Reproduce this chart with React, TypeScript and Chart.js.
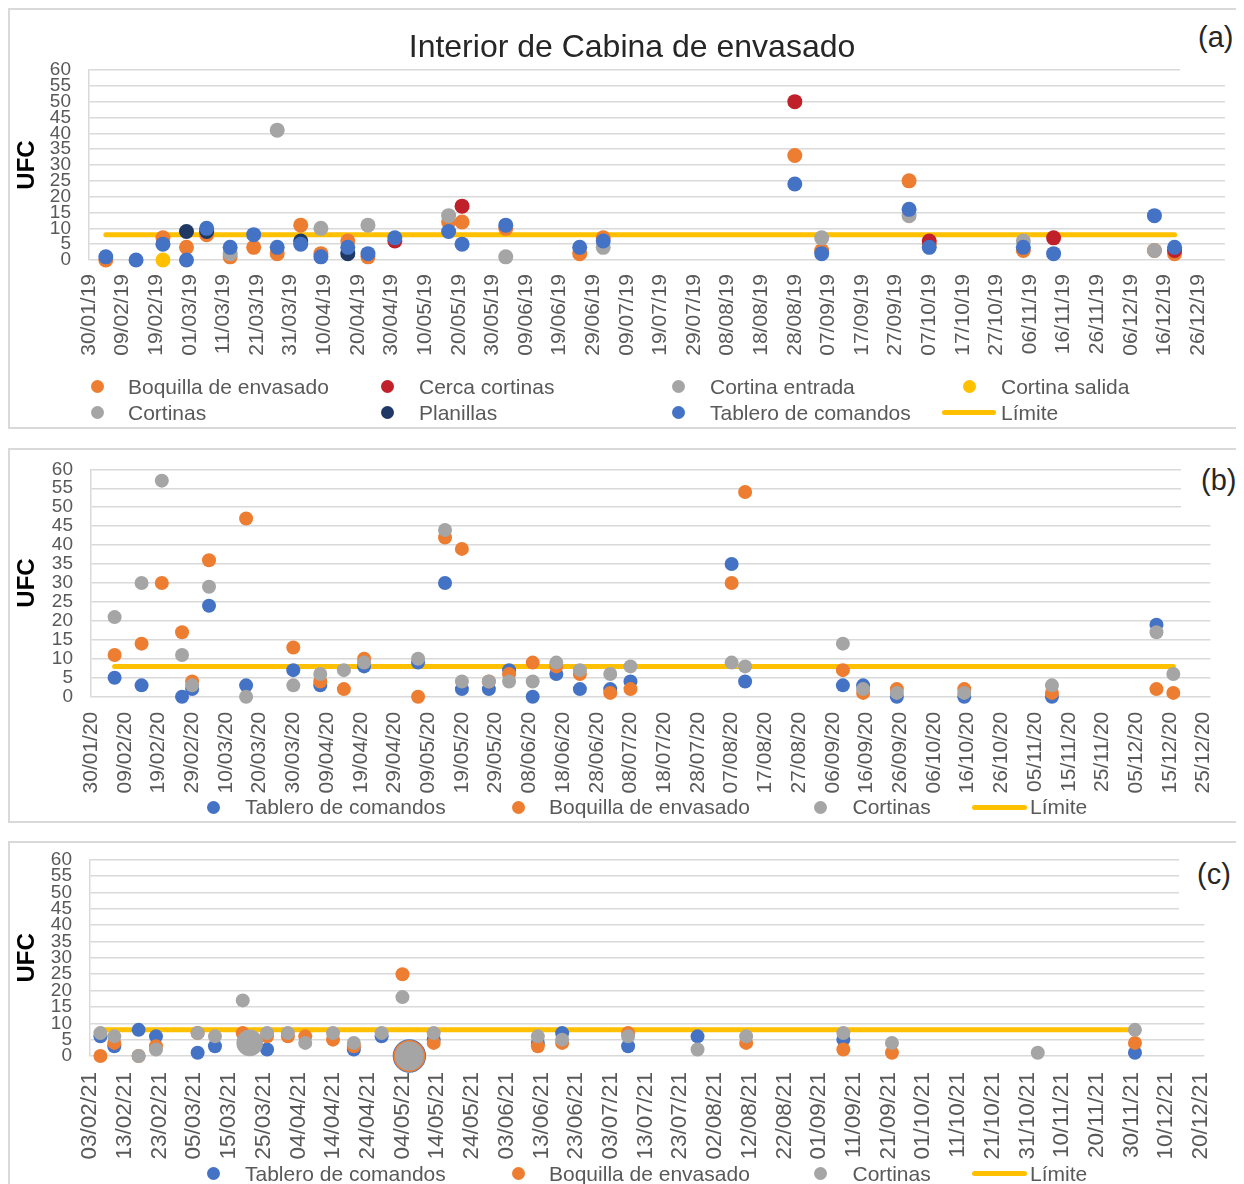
import React, { useEffect, useRef } from "react";
import { Chart, registerables } from "chart.js";

Chart.register(...registerables);

const FONT = '"Liberation Sans", Arial, Helvetica, sans-serif';
Chart.defaults.font.family = FONT;

// ---------------- Panel (a): 2019 ----------------
const DATES_2019 = ["04/02/19","13/02/19","21/02/19","28/02/19","06/03/19","13/03/19","20/03/19","27/03/19","03/04/19","09/04/19","17/04/19","23/04/19","01/05/19","17/05/19","21/05/19","03/06/19","25/06/19","02/07/19","28/08/19","05/09/19","01/10/19","07/10/19","04/11/19","13/11/19","13/12/19","19/12/19"];
const BOQUILLA_2019 = [0,null,7,4,8,1,4,2,11,2,6,1,null,12,12,10,2,7,33,3,25,5,3,null,3,2];
const CERCA_CORTINAS_2019 = [null,null,null,null,null,null,null,null,null,null,null,null,6,null,17,null,null,null,50,null,null,6,null,7,null,3];
const CORTINA_ENTRADA_2019 = [null,null,null,null,null,null,null,null,null,null,null,null,null,null,null,1,null,null,null,null,null,null,null,null,null,null];
const CORTINA_SALIDA_2019 = [null,null,0,null,null,null,null,null,null,null,null,null,null,null,null,null,null,null,null,null,null,null,null,null,null,null];
const CORTINAS_2019 = [null,null,null,null,null,2,null,41,null,10,null,11,null,14,null,null,null,4,null,7,14,null,6,null,3,null];
const PLANILLAS_2019 = [null,null,null,9,9,null,null,null,6,null,2,null,null,null,null,null,null,null,null,null,null,null,null,null,null,null];
const TABLERO_2019 = [1,0,5,0,10,4,8,4,5,1,4,2,7,9,5,11,4,6,24,2,16,4,4,2,14,4];
const AXIS_2019: [string, string] = ["30/01/19", "03/01/20"];

// ---------------- Panel (b): 2020 ----------------
const DATES_2020 = ["06/02/20","14/02/20","20/02/20","26/02/20","29/02/20","05/03/20","16/03/20","30/03/20","07/04/20","14/04/20","20/04/20","06/05/20","14/05/20","19/05/20","27/05/20","02/06/20","09/06/20","16/06/20","23/06/20","02/07/20","08/07/20","07/08/20","11/08/20","09/09/20","15/09/20","25/09/20","15/10/20","10/11/20","11/12/20","16/12/20"];
const TABLERO_2020 = [5,3,null,0,2,24,3,7,3,null,8,9,30,2,2,7,0,6,2,2,4,35,4,3,3,0,0,0,19,null];
const BOQUILLA_2020 = [11,14,30,17,4,36,47,13,4,2,10,0,42,39,4,6,9,8,6,1,2,30,54,7,1,2,2,1,2,1];
const CORTINAS_2020 = [21,30,57,11,3,29,0,3,6,7,9,10,44,4,4,4,4,9,7,6,8,9,8,14,2,1,1,3,17,6];
const AXIS_2020: [string, string] = ["30/01/20", "27/12/20"];

// ---------------- Panel (c): 2021 ----------------
const DATES_2021 = ["06/02/21","10/02/21","17/02/21","22/02/21","06/03/21","11/03/21","19/03/21","21/03/21","26/03/21","01/04/21","06/04/21","14/04/21","20/04/21","28/04/21","04/05/21","06/05/21","13/05/21","12/06/21","19/06/21","08/07/21","28/07/21","11/08/21","08/09/21","22/09/21","03/11/21","01/12/21"];
const TABLERO_2021 = [6,3,8,6,1,3,null,null,2,null,null,null,2,6,null,0,5,4,7,3,6,null,5,null,null,1];
const BOQUILLA_2021 = [0,4,0,3,7,null,7,null,6,6,6,5,3,null,25,0,4,3,4,7,null,4,2,1,null,4];
const CORTINAS_2021 = [7,6,0,2,7,6,17,4,7,7,4,7,4,7,18,0,7,6,5,6,2,6,7,4,1,8];
const AXIS_2021: [string, string] = ["03/02/21", "21/12/21"];

const LIMITE = 8;
const Y_MIN = 0;
const Y_MAX = 60;
const Y_STEP = 5;
const X_STEP_DAYS = 10;

// ---------------- styles ----------------
const COLOR = {
  tablero: "#4472C4",
  boquilla: "#ED7D31",
  cortinas: "#A5A5A5",
  cerca: "#C0202A",
  entrada: "#A5A5A5",
  salida: "#FFC000",
  planillas: "#203864",
  limite: "#FFC000",
};
const BIG_MARKERS_2021: Record<string, Record<string, number>> = {
  "21/03/21": { Cortinas: 13.3 },
  "06/05/21": { "Tablero de comandos": 16.7, "Boquilla de envasado": 16, Cortinas: 14.5 },
};

const toDay = (s: string) => {
  const [d, m, y] = s.split("/").map(Number);
  return Date.UTC(2000 + y, m - 1, d) / 86400000;
};
const pad = (n: number) => String(n).padStart(2, "0");
const fmtDay = (day: number) => {
  const dt = new Date(Math.round(day) * 86400000);
  return `${pad(dt.getUTCDate())}/${pad(dt.getUTCMonth() + 1)}/${pad(dt.getUTCFullYear() % 100)}`;
};

type Series = { label: string; values: (number | null)[]; color: string };
type Slot = { mx?: number; lx1?: number; lx2?: number; tx: number; y: number };
type PanelDef = {
  top: number;
  height: number;
  canvasH: number;
  bottomBorder: boolean;
  dates: string[];
  axis: [string, string];
  series: Series[];
  radius: number;
  big?: Record<string, Record<string, number>>;
  area: { top: number; bottom: number; left: number; right: number };
  xFont: number;
  xPad: number;
  slots: Slot[];
  tag: string;
  tagBox: { x: number; w: number; h: number };
  tagPos: { left: number; top: number };
  title?: string;
};

const CANVAS_W = 1234;
const X_AXIS_H = 110;
const GRID = "#D9D9D9";
const TEXT = "#595959";

const PANELS: PanelDef[] = [
  {
    top: 0, height: 421, canvasH: 417, bottomBorder: true,
    dates: DATES_2019, axis: AXIS_2019,
    series: [
      { label: "Boquilla de envasado", values: BOQUILLA_2019, color: COLOR.boquilla },
      { label: "Cerca cortinas", values: CERCA_CORTINAS_2019, color: COLOR.cerca },
      { label: "Cortina entrada", values: CORTINA_ENTRADA_2019, color: COLOR.entrada },
      { label: "Cortina salida", values: CORTINA_SALIDA_2019, color: COLOR.salida },
      { label: "Cortinas", values: CORTINAS_2019, color: COLOR.cortinas },
      { label: "Planillas", values: PLANILLAS_2019, color: COLOR.planillas },
      { label: "Tablero de comandos", values: TABLERO_2019, color: COLOR.tablero },
    ],
    radius: 7.5,
    area: { top: 60, bottom: 250, left: 79, right: 1215 },
    xFont: 21, xPad: 14,
    slots: [
      { mx: 87, tx: 118, y: 376.5 }, { mx: 377, tx: 409, y: 376.5 }, { mx: 668, tx: 700, y: 376.5 }, { mx: 959, tx: 991, y: 376.5 },
      { mx: 87, tx: 118, y: 402.5 }, { mx: 377, tx: 409, y: 402.5 }, { mx: 668, tx: 700, y: 402.5 }, { lx1: 932, lx2: 986, tx: 991, y: 402.5 },
    ],
    tag: "(a)", tagBox: { x: 1170, w: 64, h: 68 }, tagPos: { left: 1188, top: 12 },
    title: "Interior de Cabina de envasado",
  },
  {
    top: 440, height: 375, canvasH: 371, bottomBorder: true,
    dates: DATES_2020, axis: AXIS_2020,
    series: [
      { label: "Tablero de comandos", values: TABLERO_2020, color: COLOR.tablero },
      { label: "Boquilla de envasado", values: BOQUILLA_2020, color: COLOR.boquilla },
      { label: "Cortinas", values: CORTINAS_2020, color: COLOR.cortinas },
    ],
    radius: 7,
    area: { top: 19.3, bottom: 246.7, left: 81, right: 1212 },
    xFont: 21, xPad: 15,
    slots: [
      { mx: 203, tx: 235, y: 357 }, { mx: 508, tx: 539, y: 357 }, { mx: 810.5, tx: 842.5, y: 357 }, { lx1: 962, lx2: 1017, tx: 1020, y: 357 },
    ],
    tag: "(b)", tagBox: { x: 1171, w: 63, h: 66 }, tagPos: { left: 1191, top: 15 },
  },
  {
    top: 833, height: 343, canvasH: 341, bottomBorder: false,
    dates: DATES_2021, axis: AXIS_2021,
    series: [
      { label: "Tablero de comandos", values: TABLERO_2021, color: COLOR.tablero },
      { label: "Boquilla de envasado", values: BOQUILLA_2021, color: COLOR.boquilla },
      { label: "Cortinas", values: CORTINAS_2021, color: COLOR.cortinas },
    ],
    radius: 7,
    big: BIG_MARKERS_2021,
    area: { top: 12, bottom: 213, left: 80, right: 1212 },
    xFont: 22.5, xPad: 16,
    slots: [
      { mx: 203, tx: 235, y: 330.5 }, { mx: 508, tx: 539, y: 330.5 }, { mx: 810.5, tx: 842.5, y: 330.5 }, { lx1: 962, lx2: 1017, tx: 1020, y: 330.5 },
    ],
    tag: "(c)", tagBox: { x: 1169, w: 65, h: 70 }, tagPos: { left: 1187, top: 16 },
  },
];

function Panel({ p }: { p: PanelDef }) {
  const ref = useRef<HTMLCanvasElement | null>(null);

  useEffect(() => {
    const start = toDay(p.axis[0]);
    const end = toDay(p.axis[1]);
    const n = p.series.length;
    const radiusOf = (label: string) => (ctx: any) =>
      (p.big && ctx.raw && p.big[ctx.raw.d] && p.big[ctx.raw.d][label]) || p.radius;
    const datasets: any[] = p.series.map((s, i) => ({
      label: s.label,
      data: p.dates.flatMap((d, k) =>
        s.values[k] == null ? [] : [{ x: toDay(d) - start, y: s.values[k] as number, d }]
      ),
      backgroundColor: s.color,
      borderColor: s.color,
      pointBackgroundColor: s.color,
      pointBorderColor: s.color,
      pointBorderWidth: 0,
      pointRadius: radiusOf(s.label),
      pointHoverRadius: radiusOf(s.label),
      showLine: false,
      order: n - i,
      clip: false,
    }));
    datasets.push({
      label: "Límite",
      data: [
        { x: toDay(p.dates[0]) - start, y: LIMITE },
        { x: toDay(p.dates[p.dates.length - 1]) - start, y: LIMITE },
      ],
      showLine: true,
      borderColor: COLOR.limite,
      backgroundColor: COLOR.limite,
      borderWidth: 5,
      borderCapStyle: "round",
      pointRadius: 0,
      pointHoverRadius: 0,
      order: n + 10,
      clip: false,
    });

    const chart = new Chart(ref.current as HTMLCanvasElement, {
      type: "scatter",
      data: { datasets },
      options: {
        responsive: false,
        animation: false,
        devicePixelRatio: 1,
        events: [],
        layout: {
          padding: {
            top: p.area.top,
            right: CANVAS_W - p.area.right,
            bottom: p.canvasH - p.area.bottom - X_AXIS_H,
            left: 0,
          },
        },
        plugins: {
          legend: { display: false },
          tooltip: { enabled: false },
          title: { display: false },
        },
        scales: {
          x: {
            type: "linear",
            min: 0,
            max: end - start,
            afterFit: (scale: any) => {
              scale.height = X_AXIS_H;
            },
            grid: { display: false, drawTicks: false },
            border: { display: false },
            ticks: {
              stepSize: X_STEP_DAYS,
              autoSkip: false,
              includeBounds: false,
              maxTicksLimit: 1000,
              minRotation: 90,
              maxRotation: 90,
              padding: p.xPad,
              color: TEXT,
              font: { family: FONT, size: p.xFont },
              callback: (v: any) => fmtDay(start + Number(v)),
            },
          },
          y: {
            type: "linear",
            min: Y_MIN,
            max: Y_MAX,
            afterFit: (scale: any) => {
              scale.width = p.area.left;
              scale.paddingTop = 0;
              scale.paddingBottom = 0;
            },
            grid: { color: GRID, lineWidth: 1.5, drawTicks: false },
            border: { display: true, color: GRID, width: 1.5 },
            ticks: {
              stepSize: Y_STEP,
              autoSkip: false,
              padding: 18,
              color: TEXT,
              font: { family: FONT, size: 19 },
            },
            title: {
              display: true,
              text: "UFC",
              color: "#000000",
              font: { family: FONT, size: 24, weight: "bold" },
              padding: { top: 2.6, bottom: 0 },
            },
          },
        },
      } as any,
    });
    return () => chart.destroy();
  }, [p]);

  const B = `2px solid ${GRID}`;
  const legendItems = [
    ...p.series.map((s) => ({ label: s.label, color: s.color })),
    { label: "Límite", color: COLOR.limite },
  ];

  return (
    <div
      style={{
        position: "absolute",
        left: 0,
        top: p.top,
        width: 1236,
        height: p.height,
        boxSizing: "border-box",
        borderTop: B,
        borderLeft: B,
        borderBottom: p.bottomBorder ? B : "none",
        background: "#ffffff",
      }}
    >
      <canvas
        ref={ref}
        width={CANVAS_W}
        height={p.canvasH}
        style={{ position: "absolute", left: 0, top: 0, display: "block", width: CANVAS_W, height: p.canvasH }}
      />
      {p.title && (
        <div
          style={{
            position: "absolute",
            left: 222,
            top: 20,
            width: 800,
            textAlign: "center",
            fontFamily: FONT,
            fontSize: 32,
            lineHeight: "32px",
            color: "#262626",
            whiteSpace: "nowrap",
          }}
        >
          {p.title}
        </div>
      )}
      <div
        style={{
          position: "absolute",
          left: p.tagBox.x,
          top: 0,
          width: p.tagBox.w,
          height: p.tagBox.h,
          background: "#ffffff",
        }}
      />
      <div
        style={{
          position: "absolute",
          left: p.tagPos.left,
          top: p.tagPos.top,
          fontFamily: FONT,
          fontSize: 29,
          lineHeight: "30px",
          color: "#262626",
          whiteSpace: "nowrap",
        }}
      >
        {p.tag}
      </div>
      {legendItems.map((it, i) => {
        const s = p.slots[i];
        return (
          <React.Fragment key={it.label}>
            {s.lx1 != null ? (
              <div
                style={{
                  position: "absolute",
                  left: s.lx1,
                  top: s.y - 2.5,
                  width: (s.lx2 as number) - s.lx1,
                  height: 5,
                  borderRadius: 2.5,
                  background: it.color,
                }}
              />
            ) : (
              <div
                style={{
                  position: "absolute",
                  left: (s.mx as number) - 6.5,
                  top: s.y - 6.5,
                  width: 13,
                  height: 13,
                  borderRadius: "50%",
                  background: it.color,
                }}
              />
            )}
            <div
              style={{
                position: "absolute",
                left: s.tx,
                top: s.y - 12,
                fontFamily: FONT,
                fontSize: 21,
                lineHeight: "24px",
                color: TEXT,
                whiteSpace: "nowrap",
              }}
            >
              {it.label}
            </div>
          </React.Fragment>
        );
      })}
    </div>
  );
}

export default function App() {
  useEffect(() => {
    document.documentElement.style.overflow = "hidden";
    document.body.style.overflow = "hidden";
  }, []);
  return (
    <div
      style={{
        position: "relative",
        width: 1236,
        height: 1176,
        overflow: "hidden",
        background: "#ffffff",
        fontFamily: FONT,
      }}
    >
      {PANELS.map((p) => (
        <Panel key={p.tag} p={p} />
      ))}
    </div>
  );
}
